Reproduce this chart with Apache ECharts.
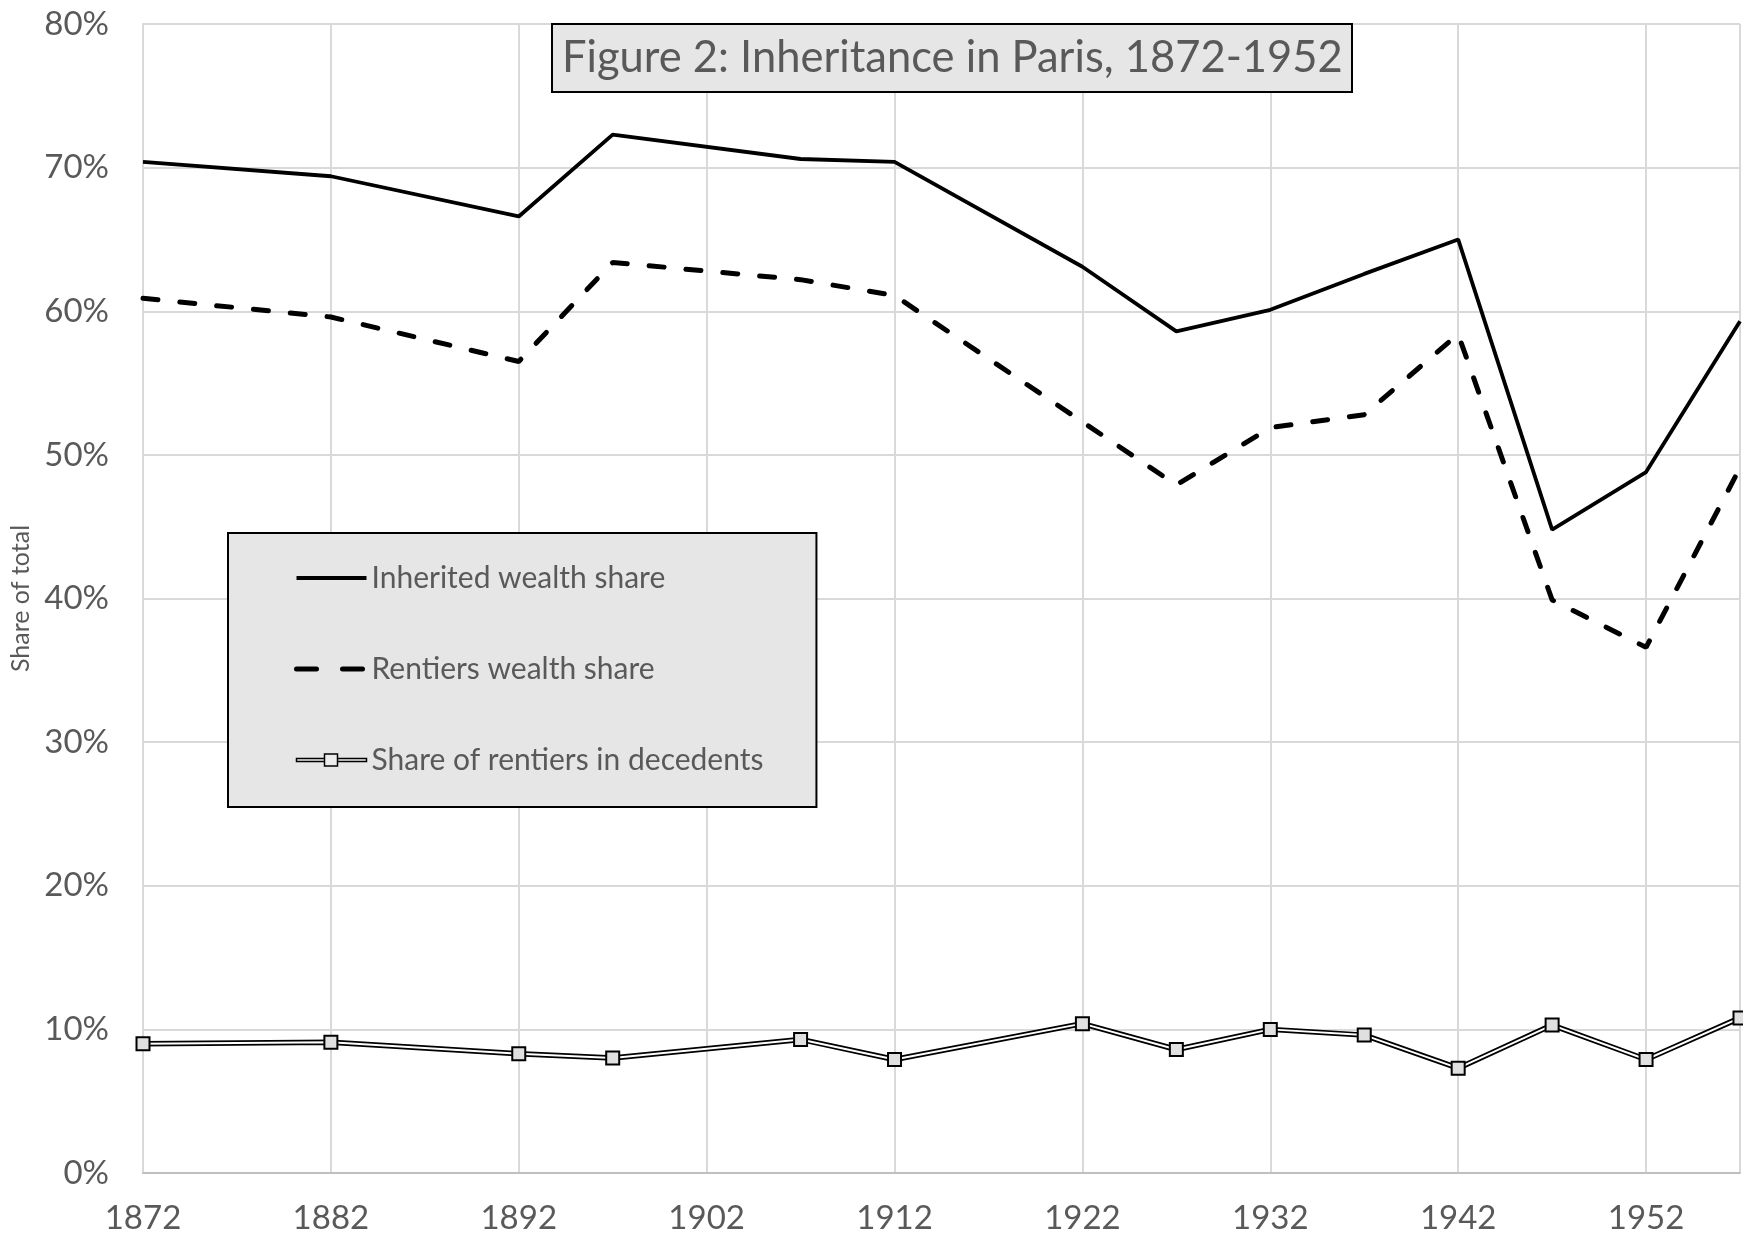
<!DOCTYPE html>
<html>
<head>
<meta charset="utf-8">
<title>Figure 2: Inheritance in Paris, 1872-1952</title>
<script src="https://cdn.jsdelivr.net/npm/echarts@6/dist/echarts.min.js"></script>
<style>
  html, body { margin: 0; padding: 0; background: #fff; }
  #main { width: 1743px; height: 1240px; }
</style>
</head>
<body>
<div id="main"></div>
<script>
// years of the observations (x axis)
const years = [1872, 1882, 1892, 1897, 1907, 1912, 1922, 1927, 1932, 1937, 1942, 1947, 1952, 1957]
// values in %
const inheritedShare = [70.4, 69.4, 66.6, 72.3, 70.6, 70.4, 63.1, 58.6, 60.1, 62.6, 65.0, 44.8, 48.8, 59.3]
const rentiersShare = [60.9, 59.6, 56.5, 63.4, 62.2, 61.1, 52.3, 47.9, 51.9, 52.8, 58.4, 39.9, 36.6, 49.1]
const rentiersInDecedents = [9.0, 9.1, 8.3, 8.0, 9.3, 7.9, 10.4, 8.6, 10.0, 9.6, 7.3, 10.3, 7.9, 10.8]
const seriesNames = ['Inherited wealth share', 'Rentiers wealth share', 'Share of rentiers in decedents']
// tick labels
const xTickYears = [1872, 1882, 1892, 1902, 1912, 1922, 1932, 1942, 1952]
const yTickValues = [0, 10, 20, 30, 40, 50, 60, 70, 80]

const fontFamily = 'Lato'
const textColor = '#595959'
const gridColor = '#d9d9d9'

// [year, value] pairs for the value x axis
const toPairs = (vals) => years.map((y, i) => [y, vals[i]])

const chart = echarts.init(document.getElementById('main'))

const option = {
  animation: false,
  backgroundColor: '#fff',
  title: {
    text: 'Figure 2: Inheritance in Paris, 1872-1952',
    left: 552,
    top: 24,
    padding: [8, 10],
    backgroundColor: '#e6e6e6',
    borderColor: '#000',
    borderWidth: 2,
    textStyle: { fontFamily, fontSize: 43.5, fontWeight: 'normal', color: textColor, lineHeight: 52 }
  },
  grid: { left: 143, right: 2, top: 24, bottom: 67 },
  legend: {
    orient: 'vertical',
    left: 228,
    top: 533,
    padding: [30, 53, 32, 66],
    itemGap: 61,
    itemWidth: 70,
    itemHeight: 14,
    backgroundColor: '#e6e6e6',
    borderColor: '#000',
    borderWidth: 2,
    textStyle: { fontFamily, fontSize: 30, color: textColor, lineHeight: 30 },
    lineStyle: { width: 'inherit' },
    data: [
      { name: seriesNames[0], itemStyle: { color: 'rgba(0,0,0,0)', borderWidth: 0 } },
      {
        name: seriesNames[1],
        itemStyle: { color: 'rgba(0,0,0,0)', borderWidth: 0 },
        lineStyle: { type: [20, 26], width: 5 }
      },
      {
        name: seriesNames[2],
        // double line with a square marker
        icon: 'path://M0,5.5L28,5.5L28,8.5L0,8.5Z M28,1L41,1L41,13L28,13Z M41,5.5L70,5.5L70,8.5L41,8.5Z',
        itemStyle: { color: '#ececec', borderColor: '#000', borderWidth: 1.5 }
      }
    ]
  },
  xAxis: {
    type: 'value',
    min: 1872,
    max: 1957,
    interval: 10,
    axisLine: { lineStyle: { color: '#bfbfbf', width: 2 } },
    axisTick: { show: false },
    splitLine: { show: true, lineStyle: { color: gridColor, width: 2 } },
    axisLabel: {
      margin: 29,
      fontFamily,
      fontSize: 33,
      color: textColor,
      formatter: (v) => (xTickYears.includes(v) ? String(v) : '')
    }
  },
  yAxis: {
    type: 'value',
    min: 0,
    max: 80,
    interval: 10,
    name: 'Share of total',
    nameLocation: 'middle',
    nameGap: 107,
    nameTextStyle: { fontFamily, fontSize: 25, color: textColor },
    axisLine: { show: true, lineStyle: { color: gridColor, width: 2 } },
    axisTick: { show: false },
    splitLine: { lineStyle: { color: gridColor, width: 2 } },
    axisLabel: {
      margin: 34,
      fontFamily,
      fontSize: 33,
      color: textColor,
      formatter: (v) => (yTickValues.includes(v) ? v + '%' : '')
    }
  },
  series: [
    {
      name: seriesNames[0],
      type: 'line',
      data: toPairs(inheritedShare),
      symbol: 'none',
      itemStyle: { color: '#000' },
      lineStyle: { color: '#000', width: 3.8 }
    },
    {
      name: seriesNames[1],
      type: 'line',
      data: toPairs(rentiersShare),
      symbol: 'none',
      itemStyle: { color: '#000' },
      lineStyle: { color: '#000', width: 5, type: [15, 22], cap: 'round' }
    },
    {
      // black outer part of the double line
      name: 'outline',
      type: 'line',
      data: toPairs(rentiersInDecedents),
      symbol: 'none',
      silent: true,
      lineStyle: { color: '#000', width: 5.5 }
    },
    {
      name: seriesNames[2],
      type: 'line',
      data: toPairs(rentiersInDecedents),
      symbol: 'rect',
      symbolSize: 13,
      showAllSymbol: true,
      itemStyle: { color: '#e0e0e0', borderColor: '#000', borderWidth: 2 },
      lineStyle: { color: '#fff', width: 2 }
    }
  ]
}

chart.setOption(option)
</script>
</body>
</html>
